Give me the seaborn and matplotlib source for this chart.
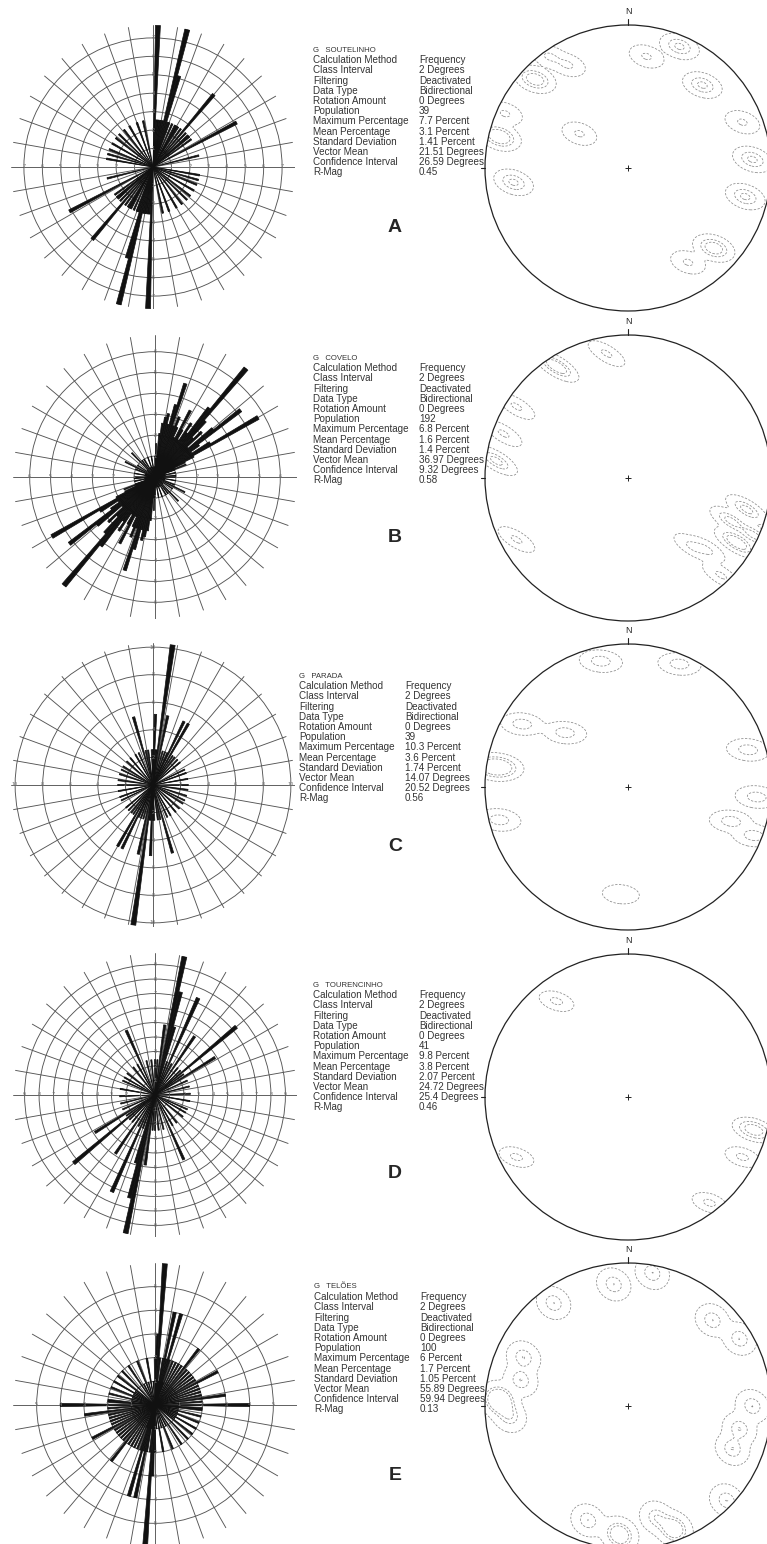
import numpy as np
import matplotlib
matplotlib.use('Agg')
import matplotlib.pyplot as plt
import seaborn as sns

sns.set_style('white')
plt.rcParams['font.family'] = ['Liberation Sans', 'DejaVu Sans']

W, H = 767, 1544

# Rose diagrams: azimuth of each 2 degree class (0-180, mirrored) and its percentage
a_az = [2, 4, 6, 8, 10, 12, 14, 16, 18, 20, 24, 28, 30, 32, 36, 40, 44, 48, 50, 54, 62, 76,
        100, 106, 112, 120, 128, 134, 142, 150, 160, 168]
a_pct = [7.69, 2.56, 2.56, 2.56, 2.56, 2.56, 7.69, 5.13, 2.56, 2.56, 2.56, 2.56, 2.56, 2.56, 2.56,
         5.13, 2.56, 2.56, 2.56, 2.56, 5.13, 2.56,
         2.56, 2.56, 2.56, 2.56, 2.56, 2.56, 2.56, 2.56, 2.56, 2.56]

b_az = [0, 2, 4, 6, 8, 10, 12, 14, 16, 18, 20, 22, 24, 26, 28, 30, 32, 34, 36, 38, 40, 42, 44, 46,
        48, 50, 52, 54, 56, 58, 60, 62, 64, 66, 68, 70, 74, 78, 82, 86, 90, 96, 100, 106, 112, 117,
        124, 130, 136, 142, 148, 154, 160, 166, 170, 176]
b_pct = [1.0, 1.6, 1.0, 2.1, 2.6, 2.9, 3.1, 2.6, 3.6, 4.7, 2.6, 3.1, 2.6, 2.1, 3.6, 2.6, 2.1, 3.1,
         2.6, 4.2, 6.8, 3.6, 2.6, 3.1, 2.1, 3.6, 5.2, 2.6, 2.1, 3.1, 5.7, 2.1, 1.6, 1.0, 1.6, 1.0,
         0.5, 1.0, 0.5, 1.0, 1.0, 0.5, 1.0, 0.5, 1.0, 1.6, 1.0, 0.5, 1.6, 1.0, 1.0, 0.5, 1.0, 0.5,
         1.0, 0.5]

c_az = [0, 2, 4, 6, 8, 12, 16, 20, 24, 26, 30, 34, 38, 44, 50, 64, 70, 80, 90, 98, 108, 116,
        122, 132, 140, 150, 156, 164, 168, 172, 178]
c_pct = [2.56, 5.13, 2.56, 2.56, 10.26, 5.13, 2.56, 2.56, 2.56, 5.13, 5.13, 2.56, 2.56, 2.56,
         2.56, 2.56, 2.56, 2.56, 2.56, 2.56, 2.56, 2.56, 2.56, 2.56, 2.56, 2.56, 2.56, 5.13, 2.56,
         2.56, 2.56]

d_az = [0, 4, 8, 12, 14, 16, 20, 24, 28, 34, 40, 46, 50, 54, 58, 66, 76, 88, 100, 114, 120, 128,
        142, 150, 156, 166, 174]
d_pct = [2.44, 2.44, 4.88, 9.76, 7.32, 4.88, 2.44, 7.32, 2.44, 4.88, 2.44, 2.44, 7.32, 2.44, 4.88,
         2.44, 2.44, 2.44, 2.44, 2.44, 2.44, 2.44, 2.44, 2.44, 4.88, 2.44, 2.44]

e_az = [0, 2, 4, 6, 8, 10, 12, 14, 16, 18, 20, 22, 26, 30, 34, 38, 42, 46, 50, 54, 58, 62, 66,
        70, 74, 78, 82, 86, 90, 94, 96, 100, 104, 108, 112, 116, 120, 124, 128, 136, 146, 152, 158,
        164, 170, 176]
e_pct = [2, 3, 6, 2, 1, 2, 4, 2, 4, 2, 1, 2, 2, 2, 2, 3, 2, 2, 2, 2, 2, 3, 2, 2, 2, 2, 3, 2, 4, 2,
         2, 1, 2, 1, 2, 1, 2, 1, 2, 2, 2, 1, 2, 1, 2, 1]

# Stereonets: projected pole positions (unit circle) and weights
a_px = [-0.65, -0.42, -0.9, -0.86, -0.8, -0.34, 0.13, 0.36, 0.52, 0.8, 0.87, 0.82, 0.6, 0.42, -0.55]
a_py = [0.62, 0.72, 0.22, 0.38, -0.1, 0.24, 0.78, 0.85, 0.58, 0.32, 0.06, -0.2, -0.56, -0.66, 0.78]
a_pw = [3, 1, 4, 1, 2, 1, 1, 2, 2, 1, 2, 2, 3, 1, 1]

b_px = [-0.5, -0.15, -0.78, -0.87, -0.92, 0.72, 0.83, 0.76, 0.55, 0.45, 0.65, 0.88, -0.78]
b_py = [0.78, 0.87, 0.5, 0.31, 0.12, -0.3, -0.22, -0.45, -0.5, -0.48, -0.68, -0.4, -0.43]
b_pw = [3, 1, 1, 1, 2, 2, 2, 3, 1, 1, 1, 2, 1]

c_px = [-0.19, 0.36, -0.74, -0.44, -0.92, -0.9, 0.84, 0.9, 0.72, 0.88, -0.05]
c_py = [0.88, 0.86, 0.44, 0.38, 0.14, -0.23, 0.26, -0.07, -0.24, -0.34, -0.75]
c_pw = [1, 1, 1, 1, 5, 1, 1, 1, 1, 1, 0.5]

d_px = [-0.5, 0.88, 0.8, -0.78, 0.57]
d_py = [0.67, -0.23, -0.42, -0.42, -0.74]
d_pw = [1, 4, 1, 1, 1]

e_px = [-0.1, 0.17, 0.59, 0.78, -0.9, -0.73, -0.75, -0.83, 0.87, 0.78, 0.73, 0.69, -0.06, 0.2,
        0.32, -0.28, -0.52]
e_py = [0.85, 0.93, 0.6, 0.47, 0.04, 0.34, 0.18, -0.07, 0.0, -0.16, -0.3, -0.66, -0.9, -0.78,
        -0.86, -0.8, 0.72]
e_pw = [1, 1, 1, 1, 3, 1, 1, 1, 1, 1, 1, 1, 2, 1, 2, 1, 1]

# Statistics text
stat_names = ['Calculation Method', 'Class Interval', 'Filtering', 'Data Type', 'Rotation Amount',
              'Population', 'Maximum Percentage', 'Mean Percentage', 'Standard Deviation',
              'Vector Mean', 'Confidence Interval', 'R-Mag']
common_vals = ['Frequency', '2 Degrees', 'Deactivated', 'Bidirectional', '0 Degrees']
a_vals = ['39', '7.7 Percent', '3.1 Percent', '1.41 Percent', '21.51 Degrees', '26.59 Degrees', '0.45']
b_vals = ['192', '6.8 Percent', '1.6 Percent', '1.4 Percent', '36.97 Degrees', '9.32 Degrees', '0.58']
c_vals = ['39', '10.3 Percent', '3.6 Percent', '1.74 Percent', '14.07 Degrees', '20.52 Degrees', '0.56']
d_vals = ['41', '9.8 Percent', '3.8 Percent', '2.07 Percent', '24.72 Degrees', '25.4 Degrees', '0.46']
e_vals = ['100', '6 Percent', '1.7 Percent', '1.05 Percent', '55.89 Degrees', '59.94 Degrees', '0.13']

sites = ['G   SOUTELINHO', 'G   COVELO', 'G   PARADA', 'G   TOURENCINHO', 'G   TELÕES']
letters = ['A', 'B', 'C', 'D', 'E']

fig = plt.figure(figsize=(W / 100, H / 100), dpi=100)


def px_axes(cx, cy, rx, ry, **kw):
    return fig.add_axes([(cx - rx) / W, 1 - (cy + ry) / H, 2 * rx / W, 2 * ry / H], **kw)


def draw_rose(cx, cy, az, pct, rmax, rings):
    ax = px_axes(cx, cy, 142, 142, projection='polar')
    ax.set_facecolor('none')
    ax.set_theta_zero_location('N')
    ax.set_theta_direction(-1)
    ax.set_axisbelow(True)
    az = np.array(az, dtype=float)
    pct = np.array(pct, dtype=float)
    theta = np.radians(np.concatenate([az, az + 180]))
    r = np.concatenate([pct, pct])
    ax.bar(theta, r, width=np.radians(2), color='#111111', edgecolor='#111111', lw=0.5, zorder=3)
    ax.set_rlim(0, rmax)
    ax.set_rticks(rings)
    ax.set_yticklabels([])
    ax.set_thetagrids(range(0, 360, 10), labels=[])
    ax.spines['polar'].set_visible(False)
    ax.grid(True, color='#555555', lw=0.65)
    for ring in rings:
        for ang in (0, 90, 180, 270):
            ax.text(np.radians(ang), ring, str(ring), fontsize=4, color='#777777',
                    ha='center', va='center', zorder=4)


def draw_stereo(cy, px, py, pw, bw):
    ax = px_axes(628, cy, 152, 152)
    sns.kdeplot(x=px, y=py, weights=pw, ax=ax, levels=[0.05, 0.45, 0.75], bw_adjust=bw,
                color='#8a8a8a', linewidths=0.55, linestyles=[(0, (3, 2))], gridsize=160)
    circ = plt.Circle((0, 0), 1, fill=False, lw=0.9, color='#222222', zorder=5)
    ax.add_patch(circ)
    for coll in ax.collections:
        coll.set_clip_path(circ)
    ax.plot([0, 0], [1.0, 1.04], color='#222222', lw=0.8)
    ax.plot([-1.03, -1.0], [0, 0], color='#222222', lw=0.8)
    ax.text(0, 1.06, 'N', fontsize=6.5, ha='center', va='bottom')
    ax.plot(0, 0, marker='+', ms=5, color='#222222', mew=0.7)
    lim = 152 / 143
    ax.set_xlim(-lim, lim)
    ax.set_ylim(-lim, lim)
    ax.axis('off')


def draw_stats(x, ytitle, site, vals, letter, yletter):
    fig.text(x / W, 1 - ytitle / H, site, fontsize=5.6, va='center', ha='left', color='#333333',
             family=['Liberation Sans Narrow', 'Liberation Sans', 'DejaVu Sans'])
    rows = common_vals + vals
    for i, (name, val) in enumerate(zip(stat_names, rows)):
        y = 1 - (ytitle + 10.2 * (i + 1)) / H
        fig.text(x / W, y, name, fontsize=7.1, va='center', ha='left', color='#333333')
        fig.text((x + 106) / W, y, val, fontsize=7.1, va='center', ha='left', color='#333333')
    fig.text(395 / W, 1 - yletter / H, letter, fontsize=14, fontweight='bold', ha='center', va='center')


rose_specs = [
    (153, 167, a_az, a_pct, 7.7, [1, 2, 3, 4, 5, 6, 7]),
    (155, 477, b_az, b_pct, 6.8, [1, 2, 3, 4, 5, 6]),
    (153, 785, c_az, c_pct, 10.3, [2, 4, 6, 8, 10]),
    (155, 1095, d_az, d_pct, 9.8, [1, 2, 3, 4, 5, 6, 7, 8, 9]),
    (155, 1405, e_az, e_pct, 6.0, [1, 2, 3, 4, 5]),
]
for spec in rose_specs:
    draw_rose(*spec)

stereo_specs = [
    (168, a_px, a_py, a_pw, 0.12),
    (478, b_px, b_py, b_pw, 0.12),
    (787, c_px, c_py, c_pw, 0.11),
    (1097, d_px, d_py, d_pw, 0.085),
    (1406, e_px, e_py, e_pw, 0.13),
]
for spec in stereo_specs:
    draw_stereo(*spec)

stat_specs = [
    (313, 50, sites[0], a_vals, letters[0], 227),
    (313, 358, sites[1], b_vals, letters[1], 537),
    (299, 676, sites[2], c_vals, letters[2], 847),
    (313, 985, sites[3], d_vals, letters[3], 1173),
    (314, 1287, sites[4], e_vals, letters[4], 1475),
]
for spec in stat_specs:
    draw_stats(*spec)

fig.savefig('out.png', dpi=100)
